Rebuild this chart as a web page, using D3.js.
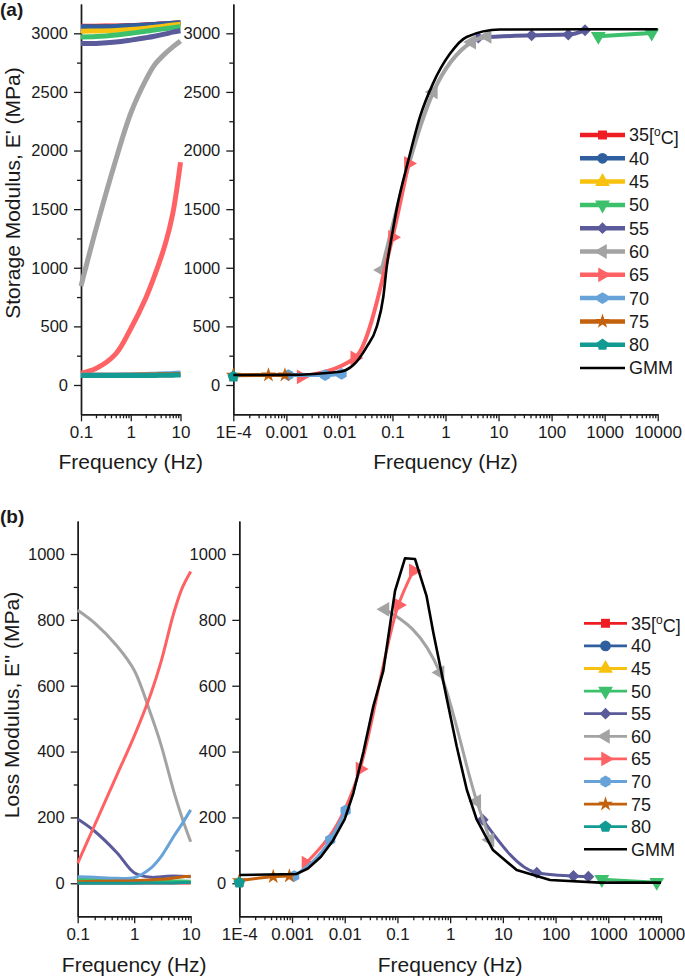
<!DOCTYPE html>
<html>
<head>
<meta charset="utf-8">
<script src="https://cdn.jsdelivr.net/npm/d3@7"></script>
<style>
  body { margin: 0; background: #fff; }
  text { font-family: "Liberation Sans", Arial, sans-serif; fill: #1a1a1a; }
</style>
</head>
<body>
<div id="chart"></div>
<script>
// legend entries (temperature in °C)
const temps = ["35", "40", "45", "50", "55", "60", "65", "70", "75", "80"];
// frequency sweep of the raw measurements (Hz)
const sweepFreq = [0.1, 0.2, 0.5, 1, 2, 3, 5, 7, 10];

// (a) storage modulus E' (MPa) per temperature over the sweep
const storageSweep = [
  [3060, 3061, 3063, 3066, 3072, 3076, 3082, 3086, 3090],
  [3055, 3056, 3059, 3064, 3071, 3076, 3082, 3086, 3090],
  [3018, 3020, 3025, 3032, 3043, 3052, 3063, 3071, 3078],
  [2968, 2972, 2985, 3000, 3017, 3028, 3040, 3048, 3055],
  [2912, 2914, 2925, 2942, 2962, 2975, 2995, 3010, 3022],
  [844, 1330, 1920, 2318, 2600, 2730, 2830, 2884, 2935],
  [100, 140, 265, 480, 740, 930, 1210, 1463, 1900],
  [85, 85, 86, 87, 89, 92, 95, 98, 102],
  [84, 84, 84, 84, 85, 86, 87, 88, 90],
  [80, 80, 80, 80, 81, 82, 83, 84, 86]
];
// (a) shifted points on the master curve: [reduced frequency, E']
const storageShift = [
  [], [], [],
  [[760, 2975], [7700, 3003]],
  [[4.15, 2963], [42, 2983], [206, 2989], [427, 3026]],
  [[0.0626, 980], [0.59, 2500], [3.12, 2926], [6.1, 2975]],
  [[0.0019, 70], [0.0195, 230], [0.1, 1260], [0.2, 1890]],
  [[0.00109, 85], [0.0054, 85], [0.011, 95]],
  [[1e-4, 83], [4.6e-4, 85], [9.4e-4, 85]],
  [[1e-4, 72]]
];
// (a) GMM fit
const storageGMM = [[1e-4, 85], [0.001, 86], [0.0103, 113], [0.0183, 170], [0.0327, 326],
  [0.0505, 497], [0.0673, 753], [0.078, 1008], [0.0968, 1264], [0.12, 1500], [0.2, 1918],
  [0.33, 2287], [0.58, 2571], [1.22, 2827], [2.5, 2969], [10.6, 3032], [10000, 3035]];

// (b) loss modulus E'' (MPa) per temperature over the sweep
const lossSweep = [
  [1, 1, 1, 1, 1, 1, 1, 1, 1],
  [2, 2, 2, 2, 2, 2, 2, 2, 2],
  [3, 3, 3, 3, 3, 3, 3, 3, 3],
  [12, 11, 10, 9, 8, 8, 7, 7, 6],
  [195, 158, 92, 32, 18, 20, 22, 21, 20],
  [829, 790, 720, 647, 510, 419, 280, 200, 126],
  [61, 177, 331, 447, 579, 674, 820, 895, 947],
  [20, 18, 15, 17, 47, 81, 142, 180, 223],
  [5, 6, 7, 8, 10, 12, 16, 19, 21],
  [0, 0, 0, 0, 1, 1, 1, 2, 2]
];
// (b) shifted points on the master curve
const lossShift = [
  [], [], [],
  [[753, 12], [8300, 3]],
  [[4.15, 193], [44, 32], [218, 22], [419, 20]],
  [[0.058, 832], [0.643, 640], [3.2, 249], [5.7, 132]],
  [[0.00184, 61], [0.0195, 347], [0.104, 845], [0.2, 949]],
  [[0.0011, 22], [0.0053, 132], [0.0104, 221]],
  [[1e-4, 8], [4.4e-4, 20], [8.9e-4, 22]],
  [[1e-4, 2]]
];
// (b) GMM fit
const lossGMM = [[1e-4, 25], [0.0012, 28], [0.002, 45], [0.0035, 80], [0.006, 130], [0.01, 195],
  [0.0146, 274], [0.0227, 400], [0.0349, 538], [0.0539, 645], [0.09, 888], [0.139, 987],
  [0.215, 985], [0.356, 873], [0.48, 761], [0.87, 558], [1.33, 416], [2.07, 284], [3.2, 193],
  [6.5, 101], [18.3, 40], [78.7, 10], [700, 2], [10000, 2]];

// tick values / labels
const leftTicks = [0.1, 1, 10];
const leftTickLabels = ["0.1", "1", "10"];
const rightTicks = [1e-4, 1e-3, 1e-2, 0.1, 1, 10, 100, 1000, 10000];
const rightTickLabels = ["1E-4", "0.001", "0.01", "0.1", "1", "10", "100", "1000", "10000"];
const storageTicks = [0, 500, 1000, 1500, 2000, 2500, 3000];
const lossTicks = [0, 200, 400, 600, 800, 1000];

const colors = ["#ee1d23", "#2f5f9e", "#f7c10e", "#3cc06c", "#5b5b9b", "#a3a3a3",
  "#fe6264", "#67a2d8", "#c4610d", "#129a93"];

// extra marker shapes
const hexagon = {
  draw(ctx, size) {
    const r = Math.sqrt(2 * size / (3 * Math.sqrt(3)));
    for (let i = 0; i < 6; i++) {
      const a = Math.PI / 3 * i + Math.PI / 6;
      i ? ctx.lineTo(r * Math.cos(a), r * Math.sin(a)) : ctx.moveTo(r * Math.cos(a), r * Math.sin(a));
    }
    ctx.closePath();
  }
};
const pentagon = {
  draw(ctx, size) {
    const r = Math.sqrt(size / (2.5 * Math.sin(2 * Math.PI / 5)));
    for (let i = 0; i < 5; i++) {
      const a = -Math.PI / 2 + 2 * Math.PI / 5 * i;
      i ? ctx.lineTo(r * Math.cos(a), r * Math.sin(a)) : ctx.moveTo(r * Math.cos(a), r * Math.sin(a));
    }
    ctx.closePath();
  }
};
// [symbol type, area, rotation] per temperature
const markers = [
  [d3.symbolSquare, 80, 0], [d3.symbolCircle, 90, 0], [d3.symbolTriangle, 95, 0],
  [d3.symbolTriangle, 95, 180], [d3.symbolSquare, 70, 45], [d3.symbolTriangle, 95, -90],
  [d3.symbolTriangle, 95, 90], [hexagon, 90, 0], [d3.symbolStar, 70, 0], [pentagon, 90, 0]
];

function marker(sel, k, x, y) {
  sel.append("path")
    .attr("d", d3.symbol(markers[k][0], markers[k][1])())
    .attr("transform", `translate(${x},${y}) rotate(${markers[k][2]})`)
    .attr("fill", colors[k]);
}

const svg = d3.select("#chart").append("svg")
  .attr("width", 685).attr("height", 979);

function styleAxis(g, size) {
  g.select(".domain").attr("stroke", "#1a1a1a").attr("stroke-width", 1.4);
  g.selectAll(".tick line").attr("stroke", "#1a1a1a").attr("stroke-width", 1.3);
  g.selectAll("text").attr("font-family", null).style("font-size", size + "px").attr("fill", "#1a1a1a");
}

function drawAxes(g, x, y, ticks, labels, yTicks, minorY, p) {
  const y0 = p.yRange[0];
  const x0 = x.range()[0];
  // minor ticks
  const minorX = x.ticks().filter(t => !ticks.some(m => Math.abs(m / t - 1) < 1e-6));
  g.append("g").attr("transform", `translate(0,${y0})`)
    .call(d3.axisBottom(x).tickValues(minorX).tickSize(4).tickSizeOuter(0).tickFormat(""))
    .call(s => styleAxis(s, 17));
  g.append("g").attr("transform", `translate(${x0},0)`)
    .call(d3.axisLeft(y).tickValues(minorY).tickSize(4).tickSizeOuter(0).tickFormat(""))
    .call(s => styleAxis(s, 16));
  // major ticks
  g.append("g").attr("transform", `translate(0,${y0})`)
    .call(d3.axisBottom(x).tickValues(ticks).tickSize(7).tickSizeOuter(0).tickPadding(5)
      .tickFormat((d, i) => labels[i]))
    .call(s => styleAxis(s, 17));
  g.append("g").attr("transform", `translate(${x0},0)`)
    .call(d3.axisLeft(y).tickValues(yTicks).tickSize(7).tickSizeOuter(0).tickPadding(p.yPad)
      .tickFormat(d => String(d)))
    .call(s => styleAxis(s, 16.5));
}

function drawPanel(p) {
  const y = d3.scaleLinear().domain(p.yDomain).range(p.yRange);
  const xL = d3.scaleLog().domain([0.1, 10]).range(p.xLeft);
  const xR = d3.scaleLog().domain([1e-4, 1e4]).range(p.xRight);
  const g = svg.append("g");

  drawAxes(g, xL, y, leftTicks, leftTickLabels, p.yTicks, p.minorY, p);
  drawAxes(g, xR, y, rightTicks, rightTickLabels, p.yTicks, p.minorY, p);

  // raw sweep curves (left plot)
  const lineL = d3.line().x((d, i) => xL(sweepFreq[i])).y(d => y(d)).curve(d3.curveCatmullRom.alpha(0.5));
  p.sweep.forEach((vals, k) => {
    g.append("path").attr("d", lineL(vals)).attr("fill", "none")
      .attr("stroke", colors[k]).attr("stroke-width", p.sweepWidth);
  });

  // shifted data (right plot)
  const lineR = d3.line().x(d => xR(d[0])).y(d => y(d[1])).curve(d3.curveMonotoneX);
  p.shift.forEach((pts, k) => {
    if (!pts.length) return;
    if (pts.length > 1) {
      g.append("path").attr("d", lineR(pts)).attr("fill", "none")
        .attr("stroke", colors[k]).attr("stroke-width", p.shiftWidth);
    }
    pts.forEach(d => marker(g, k, xR(d[0]), y(d[1])));
  });

  // GMM fit
  const lineG = d3.line().x(d => xR(d[0])).y(d => y(d[1])).curve(p.gmmCurve);
  g.append("path").attr("d", lineG(p.gmm)).attr("fill", "none")
    .attr("stroke", "#000").attr("stroke-width", 2.6).attr("stroke-linejoin", "round");

  // legend
  const lg = g.append("g");
  temps.concat(["GMM"]).forEach((t, k) => {
    const ly = p.legendY + k * p.legendStep;
    const col = k < temps.length ? colors[k] : "#000";
    lg.append("line").attr("x1", p.legendX).attr("x2", p.legendX + p.legendLen)
      .attr("y1", ly).attr("y2", ly).attr("stroke", col)
      .attr("stroke-width", k < temps.length ? p.legendWidth : 2.6);
    if (k < temps.length) marker(lg, k, p.legendX + p.legendLen / 2, ly);
    const tx = lg.append("text").attr("x", p.legendX + p.legendLen + 4).attr("y", ly)
      .attr("dy", "0.36em").style("font-size", "18px");
    if (k === 0) {
      tx.append("tspan").text(t + "[");
      tx.append("tspan").attr("dy", "-0.45em").style("font-size", "12px").text("o");
      tx.append("tspan").attr("dy", "0.45em").text("C]");
    } else {
      tx.text(t);
    }
  });

  // axis titles and panel tag
  [xL, xR].forEach(x => {
    const r = x.range();
    g.append("text").attr("x", (r[0] + r[1]) / 2).attr("y", p.xTitleY)
      .attr("text-anchor", "middle").style("font-size", "21px").text("Frequency (Hz)");
  });
  g.append("text").attr("transform", `translate(${p.yTitleX},${p.yTitleY}) rotate(-90)`)
    .attr("text-anchor", "middle").style("font-size", "21px").text(p.yTitle);
  g.append("text").attr("x", 0).attr("y", p.tagY).style("font-size", "19px")
    .attr("font-weight", "bold").text(p.tag);
}

drawPanel({
  tag: "(a)", tagY: 16,
  yDomain: [-250, 3250], yRange: [414.3, 4],
  xLeft: [81, 180.5], xRight: [233.3, 657.7],
  yTicks: storageTicks, minorY: [250, 750, 1250, 1750, 2250, 2750],
  yPad: 6,
  sweep: storageSweep, sweepWidth: 5,
  shift: storageShift, shiftWidth: 4,
  gmm: storageGMM, gmmCurve: d3.curveMonotoneX,
  legendX: 580, legendLen: 45, legendY: 135, legendStep: 23.3, legendWidth: 4.5,
  xTitleY: 469, yTitle: "Storage Modulus, E' (MPa)", yTitleX: 20, yTitleY: 193
});

drawPanel({
  tag: "(b)", tagY: 523,
  yDomain: [-100, 1100], yRange: [916.2, 521.1],
  xLeft: [77.7, 190.7], xRight: [239.3, 661],
  yTicks: lossTicks, minorY: [100, 300, 500, 700, 900],
  yPad: 6,
  sweep: lossSweep, sweepWidth: 3,
  shift: lossShift, shiftWidth: 3,
  gmm: lossGMM, gmmCurve: d3.curveLinear,
  legendX: 584, legendLen: 43, legendY: 623.3, legendStep: 22.6, legendWidth: 2.8,
  xTitleY: 972, yTitle: "Loss Modulus, E'' (MPa)", yTitleX: 19, yTitleY: 705
});
</script>
</body>
</html>
